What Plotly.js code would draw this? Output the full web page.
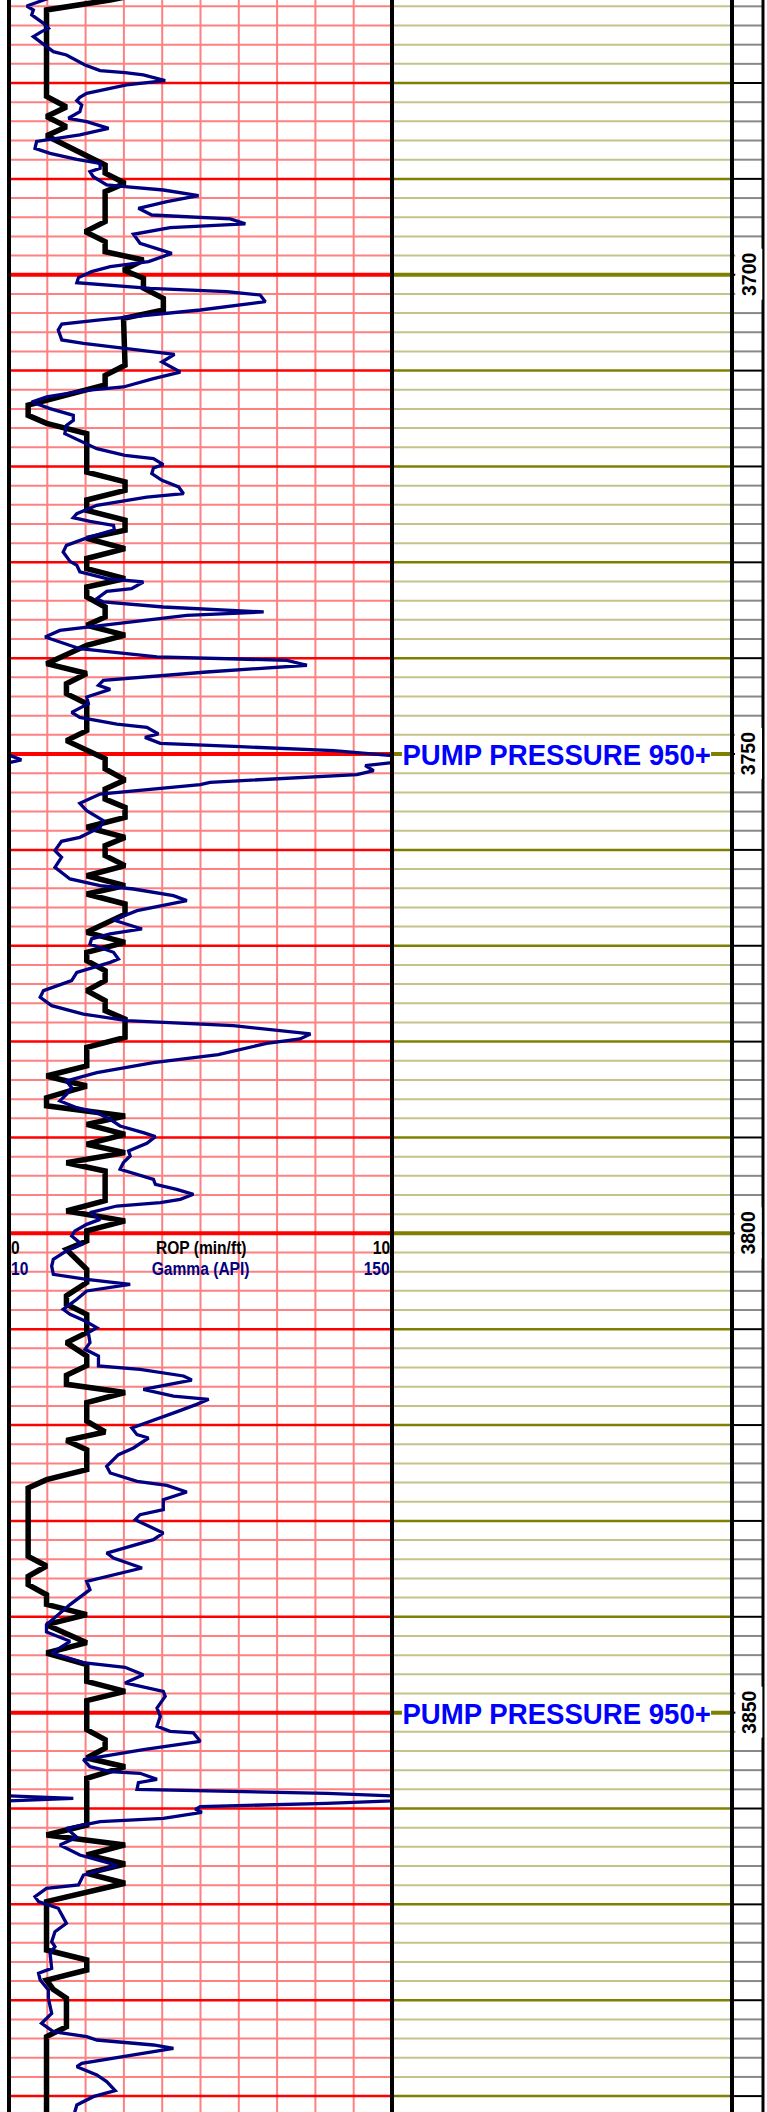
<!DOCTYPE html>
<html>
<head>
<meta charset="utf-8">
<script src="https://cdn.plot.ly/plotly-3.0.1.min.js"></script>
<style>html,body{margin:0;padding:0;background:#fff;}#chart{width:767px;height:2112px;}</style>
</head>
<body>
<div id="chart"></div>
<script>
// ---------- DATA ----------
const ropDepth = [3670.9,3671.34,3672.38,3681.4,3682.5,3683.5,3684.55,3685.5,3688.55,3689.4,3690.46,3691.33,3694.46,3695.5,3696.55,3697.6,3698.46,3699.5,3700.37,3701.4,3702.46,3703.68,3704.55,3709.45,3710.5,3711.5,3713.6,3714.67,3715.5,3716.58,3720.6,3721.6,3722.5,3723.5,3724.58,3725.6,3726.66,3727.5,3728.57,3729.6,3730.66,3731.7,3732.57,3733.6,3734.66,3735.7,3736.57,3737.6,3738.66,3740.57,3741.6,3742.66,3743.7,3744.75,3747.56,3748.6,3750.5,3751.56,3752.7,3753.65,3754.7,3755.56,3756.6,3757.64,3758.7,3759.56,3760.6,3761.64,3762.7,3763.73,3764.6,3765.64,3766.7,3768.6,3769.64,3770.68,3771.55,3772.6,3773.64,3774.68,3775.73,3776.77,3777.64,3779.55,3780.6,3782.54,3783.59,3784.63,3785.85,3786.7,3787.76,3788.63,3789.67,3790.7,3791.58,3792.63,3793.5,3796.6,3797.67,3798.7,3799.75,3800.8,3801.67,3803.75,3805.14,3806.5,3807.4,3808.45,3810.36,3811.4,3812.8,3813.8,3814.8,3815.75,3816.6,3817.66,3819.6,3820.72,3821.6,3822.57,3824.65,3825.7,3826.56,3833.7,3834.7,3835.78,3836.65,3837.7,3838.7,3839.78,3840.82,3842.7,3843.78,3845.0,3846.73,3847.78,3848.75,3851.77,3852.82,3853.7,3854.73,3855.64,3856.85,3861.72,3862.76,3863.8,3864.85,3865.79,3866.76,3867.8,3869.72,3874.76,3875.8,3876.85,3877.9,3878.85,3879.8,3882.76,3883.8,3892.2];
const ropValue = [3.2,2.64,0.98,0.98,1.5,0.98,1.5,0.98,2.51,2.51,3.03,2.51,2.51,1.99,2.51,2.51,3.51,2.99,3.51,3.51,4.03,4.03,2.99,3.03,2.51,2.51,0.5,0.5,0.98,2.03,2.03,3.03,3.03,2.03,2.03,3.03,3.03,2.03,3.03,2.03,2.03,3.03,2.03,2.03,2.51,2.51,2.03,3.03,2.03,0.98,2.03,1.5,1.5,2.03,2.03,1.5,2.51,2.51,3.03,2.51,2.51,3.03,3.03,2.03,3.03,2.51,2.51,3.03,2.03,3.03,2.03,3.03,3.03,2.03,3.03,2.03,2.03,2.51,2.51,2.03,2.51,2.51,3.03,3.03,2.03,2.03,0.98,2.03,0.98,0.98,3.03,2.03,3.03,2.03,3.03,1.5,2.51,2.51,1.5,3.03,2.03,2.03,1.5,2.03,2.03,1.5,1.5,2.03,2.03,1.5,2.03,2.03,1.5,1.5,3.03,2.03,2.03,2.51,1.5,2.03,2.03,0.98,0.5,0.5,0.98,0.5,0.5,0.98,0.98,2.03,0.98,2.03,0.98,2.03,2.03,3.03,2.03,2.03,2.51,2.51,2.03,3.03,2.03,2.03,0.98,3.03,2.03,3.03,2.03,3.03,0.98,0.98,2.03,2.03,0.98,1.15,1.5,1.5,0.98,0.98];

const gammaDepth = [3670.9,3671.34,3671.97,3672.38,3672.9,3673.77,3674.3,3674.64,3675.16,3676.73,3677.08,3678.12,3678.71,3678.92,3679.16,3679.75,3680.2,3681.08,3681.5,3681.84,3682.3,3683.0,3683.68,3684.03,3684.73,3685.42,3686.1,3686.81,3687.34,3687.96,3688.38,3688.9,3689.25,3689.77,3690.64,3690.81,3691.16,3691.75,3692.38,3693.07,3693.77,3694.18,3694.7,3695.09,3695.78,3696.72,3697.17,3697.77,3698.63,3699.16,3699.68,3700.3,3700.83,3701.42,3701.76,3702.11,3702.81,3703.68,3704.72,3705.14,3705.76,3706.8,3707.15,3708.3,3709.1,3710.15,3710.84,3711.71,3712.06,3712.75,3713.28,3713.97,3714.67,3715.19,3715.71,3716.58,3718.14,3718.84,3719.19,3719.81,3720.16,3720.75,3721.45,3722.14,3722.84,3723.19,3724.05,3724.92,3725.34,3725.72,3726.14,3726.6,3727.5,3728.23,3728.92,3729.9,3730.31,3731.0,3731.7,3732.05,3732.75,3733.03,3733.79,3734.14,3734.66,3735.18,3735.53,3736.75,3737.1,3737.79,3739.01,3739.87,3740.22,3740.74,3741.44,3742.31,3742.83,3743.25,3744.05,3744.74,3745.65,3746.17,3746.87,3747.21,3747.91,3748.26,3748.88,3749.23,3749.65,3750.17,3750.6,3750.87,3751.21,3751.73,3752.15,3752.95,3753.19,3754.17,3755.14,3755.9,3756.95,3757.65,3758.69,3759.1,3760.08,3760.77,3761.82,3763.03,3763.73,3764.08,3764.77,3765.29,3766.34,3767.31,3767.73,3768.25,3768.77,3769.29,3769.81,3770.68,3771.38,3771.73,3772.77,3773.64,3774.68,3775.38,3776.25,3777.12,3777.81,3778.33,3779.2,3779.72,3780.18,3781.35,3782.2,3782.72,3783.24,3784.11,3784.8,3785.5,3786.19,3786.89,3787.41,3788.11,3788.8,3789.5,3789.91,3790.61,3791.41,3791.93,3792.63,3793.32,3794.37,3794.89,3795.41,3795.93,3796.45,3796.8,3797.15,3797.84,3798.54,3799.06,3799.75,3800.28,3801.15,3801.84,3802.71,3803.41,3804.28,3804.8,3805.32,3806.01,3806.88,3807.93,3808.45,3809.14,3809.84,3810.36,3811.4,3812.1,3812.79,3813.84,3814.18,3814.88,3815.3,3816.27,3816.97,3817.31,3817.84,3818.6,3820.3,3821.0,3821.35,3822.39,3823.09,3824.3,3825.0,3825.87,3826.29,3826.98,3827.78,3828.82,3829.35,3829.87,3830.74,3831.26,3831.95,3833.35,3833.87,3834.91,3836.3,3837.17,3838.73,3840.82,3841.58,3842.56,3843.78,3844.82,3845.27,3846.04,3846.9,3847.78,3848.3,3849.51,3850.38,3851.43,3851.95,3852.12,3852.99,3853.86,3854.9,3855.64,3856.16,3856.33,3856.96,3857.3,3858.0,3858.42,3858.94,3859.46,3859.81,3860.09,3860.4,3861.02,3861.37,3862.07,3863.01,3863.8,3864.85,3865.72,3866.0,3866.94,3867.98,3868.33,3869.2,3869.72,3870.41,3871.1,3871.98,3872.85,3873.89,3874.41,3875.1,3876.67,3877.19,3877.89,3878.93,3879.8,3881.37,3882.41,3883.28,3883.8,3884.15,3884.67,3885.02,3886.58,3886.93,3887.8,3888.49,3889.43,3890.06,3890.93,3892.2];
const gammaValue = [27,22.6,16.5,18.9,18.3,22.6,24.4,21.9,18.9,26.2,31,37.8,43.3,52.4,59.1,67.1,53,38.4,35.9,34.8,36.6,35.9,31.7,38.4,46.4,35.9,20.1,19.5,25,34.8,43.3,43.3,39.6,40.8,45.7,52.4,66.4,79.3,67.7,57.3,62.2,90.9,96.4,68.9,55.5,57.9,62.8,69.5,61,47,40.2,35.4,34.8,61.6,89.6,101.8,103.7,79.9,43.3,29.3,28.0,29.3,37.2,70.5,65.9,72.6,62.8,51.8,38.4,23.8,18.3,25,33.5,33.5,31,30.4,42.1,52.4,62.8,66.4,62.8,62.2,65.9,72,73.8,60.4,42.1,34.8,33.5,39.6,48.2,48.5,38,31,29.8,32.3,34.8,35.9,45.7,59.1,54.8,45.7,42.1,44.5,66.4,103.1,75,38.4,28.6,23.2,35.9,64.1,111.6,118.9,82.3,44.5,42.7,47,38.4,39,32.9,35.9,49.4,60.4,64.6,59.7,65.3,94.5,128.7,150.5,154.5,150.5,140.2,143.3,137.2,83.5,79.9,43.3,35.9,38.4,44.5,43.3,35.9,29.2,26.8,29.2,26.8,32.3,43.3,55.5,70.1,75,56.8,48.2,53,58.6,47,40.2,39.6,48.2,50,47,34.8,32.9,22.6,21.4,25.6,37.2,53,92,120.2,116.4,104.2,86.5,62.8,51.8,42.1,31,32.9,31,28.6,34.8,42.1,47,50.6,59.1,63.5,60.4,53.7,54.3,51.8,50.6,62.8,63.5,71.3,77.4,72.6,65.3,49.4,39.6,43.3,38.4,34.1,32.9,36.6,31,26.2,25.6,26.2,38.4,54.3,38.4,34.8,29.8,32.3,37.8,42.1,39,39.6,37.8,42.7,42.7,57.9,73.8,76.8,59.1,70.1,83,78.6,71.5,54.9,56.8,61,55.5,50,45.7,47,56.8,67.7,75,66.4,66.4,57.9,56.1,62.8,66.4,62.8,45.7,48.2,58.6,38.4,39.6,32.3,23.7,23.7,32.3,25.6,37.8,52.4,59.1,52.4,66.4,67.1,64.1,65.3,64.1,68.9,77.4,79.9,59.1,37.2,39.6,47,57.9,64.1,57.3,56.8,126.2,173.5,126.2,79.9,78.1,80.5,66.4,43.3,31,34.8,28.6,35.9,47,49.4,37.2,35.4,23.7,19.5,20.8,28,29.3,31,26.8,25.6,26.8,25,25.6,20.8,21.4,24.4,24.4,25.6,21.9,26.2,38.4,42.1,62.8,70.1,36.6,34.8,42.1,45.7,48.8,40.8,34.8,33.5];

const depthLabels = [3700, 3750, 3800, 3850];
const remarkDepths = [3750, 3850];
const remarkText = "PUMP PRESSURE 950+";
const ropTitle = "ROP (min/ft)";
const gammaTitle = "Gamma (API)";
const ropScale = [0, 10];
const gammaScale = [10, 150];
const depthRange = [3891.66, 3671.34];

// ---------- LAYOUT GEOMETRY ----------
const W = 767, H = 2112;
const X_L0 = 9, X_L1 = 392, X_R1 = 732, X_D1 = 763;
const p = v => v / W;

const shapes = [];
for (let k = 1; k < 10; k++) {
  shapes.push({type:'line', layer:'below', xref:'x', yref:'paper', x0:k, x1:k, y0:0, y1:1,
    line:{color:'#ff8080', width:2}});
}
const dStart = Math.ceil(depthRange[1] / 2) * 2, dEnd = Math.floor(depthRange[0] / 2) * 2;
const classes = [[], [], []];
for (let d = dStart; d <= dEnd; d += 2) {
  if (d % 50 === 0) classes[2].push(d); else if (d % 10 === 0) classes[1].push(d); else classes[0].push(d);
}
const styles = [
  {left:{color:'#ff8080', width:2}, right:{color:'#c4c48a', width:2}, depth:{color:'#888888', width:2}},
  {left:{color:'#ff0000', width:2.5}, right:{color:'#808000', width:2.5}, depth:{color:'#000000', width:2}},
  {left:{color:'#ff0000', width:4}, right:{color:'#808000', width:4}, depth:{color:'#000000', width:2}}
];
classes.forEach((list, ci) => {
  list.forEach(d => {
    shapes.push({type:'line', layer:'below', xref:'paper', yref:'y', x0:p(X_L0), x1:p(X_L1), y0:d, y1:d, line:styles[ci].left});
    shapes.push({type:'line', layer:'below', xref:'paper', yref:'y', x0:p(X_L1), x1:p(X_R1), y0:d, y1:d, line:styles[ci].right});
    shapes.push({type:'line', layer:'below', xref:'paper', yref:'y', x0:p(X_R1), x1:p(X_D1), y0:d, y1:d, line:styles[ci].depth});
  });
});
[[X_L0,4],[X_L1,4],[X_R1,4],[X_D1,3]].forEach(([x,w]) => {
  shapes.push({type:'line', layer:'above', xref:'paper', yref:'paper', x0:p(x), x1:p(x), y0:0, y1:1, line:{color:'#000', width:w}});
});

const annotations = [];
depthLabels.forEach(d => {
  annotations.push({xref:'paper', yref:'y', x:p((X_R1 + X_D1) / 2 + 1), y:d, text:'<b>' + d + '</b>',
    textangle:-90, showarrow:false, bgcolor:'#ffffff', borderpad:0, width:50, height:26,
    font:{family:'Liberation Sans, Arial, sans-serif', size:19.5, color:'#000'}, xanchor:'center', yanchor:'middle'});
});
remarkDepths.forEach(d => {
  annotations.push({xref:'paper', yref:'y', x:p(556.5), y:d, text:'<b>' + remarkText + '</b>',
    showarrow:false, bgcolor:'#ffffff', borderpad:0, height:26, name:'narrow92',
    font:{family:'Liberation Sans, Arial, sans-serif', size:30, color:'#0000ff'}, xanchor:'center', yanchor:'middle'});
});
const hdrFont = (c) => ({family:'Liberation Sans, Arial, sans-serif', size:19, color:c});
const hdrY1 = 3801.5, hdrY2 = 3803.7;
const hdr = (x, y, t, anchor, c) => ({xref:'x', yref:'y', x:x, y:y, text:'<b>' + t + '</b>', xanchor:anchor, yanchor:'middle', showarrow:false, font:hdrFont(c), name:'narrow82'});
annotations.push(hdr(ropScale[0], hdrY1, ropScale[0], 'left', '#000'));
annotations.push(hdr((ropScale[0]+ropScale[1])/2, hdrY1, ropTitle, 'center', '#000'));
annotations.push(hdr(ropScale[1], hdrY1, ropScale[1], 'right', '#000'));
annotations.push(hdr(ropScale[0], hdrY2, gammaScale[0], 'left', '#000080'));
annotations.push(hdr((ropScale[0]+ropScale[1])/2, hdrY2, gammaTitle, 'center', '#000080'));
annotations.push(hdr(ropScale[1], hdrY2, gammaScale[1], 'right', '#000080'));

const span = gammaScale[1] - gammaScale[0];
const traces = [
  {x: gammaValue, y: gammaDepth, xaxis:'x2', yaxis:'y', mode:'lines', line:{color:'#000080', width:3.3}, hoverinfo:'skip'},
  {x: gammaValue.map(g => g - span), y: gammaDepth, xaxis:'x2', yaxis:'y', mode:'lines', line:{color:'#000080', width:3.3}, hoverinfo:'skip'},
  {x: ropValue, y: ropDepth, xaxis:'x', yaxis:'y', mode:'lines', line:{color:'#000000', width:5.5}, hoverinfo:'skip'}
];

const axisOff = {showgrid:false, zeroline:false, showticklabels:false, ticks:'', showline:false, fixedrange:true};
const layout = {
  width: W, height: H,
  margin: {l:0, r:0, t:0, b:0, pad:0},
  paper_bgcolor:'#ffffff', plot_bgcolor:'rgba(0,0,0,0)',
  showlegend:false,
  xaxis: Object.assign({domain:[p(X_L0), p(X_L1)], range:ropScale, anchor:'y'}, axisOff),
  xaxis2: Object.assign({domain:[p(X_L0), p(X_L1)], range:gammaScale, overlaying:'x', anchor:'y'}, axisOff),
  yaxis: Object.assign({domain:[0,1], range:depthRange, anchor:'x'}, axisOff),
  shapes: shapes,
  annotations: annotations
};
Plotly.newPlot('chart', traces, layout, {staticPlot:true, displayModeBar:false}).then(gd => {
  // condensed lettering like the original narrow typeface
  gd.querySelectorAll('g.annotation').forEach(g => {
    const ann = gd.layout.annotations[+g.getAttribute('data-index')];
    if (!ann || !ann.name) return;
    const s = ann.name === 'narrow82' ? 0.82 : 0.92;
    const origin = ann.xanchor === 'left' ? 'left center' : (ann.xanchor === 'right' ? 'right center' : 'center center');
    g.querySelectorAll('text.annotation-text, rect.bg').forEach(el => {
      el.style.transformBox = 'fill-box';
      el.style.transformOrigin = origin;
      el.style.transform = 'scaleX(' + s + ')';
    });
  });
});
</script>
</body>
</html>
